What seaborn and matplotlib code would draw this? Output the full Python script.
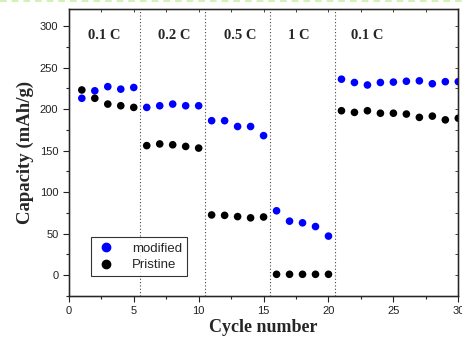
import matplotlib
matplotlib.use('Agg')
import matplotlib.pyplot as plt
import matplotlib.lines as mlines
from matplotlib.ticker import MultipleLocator
import seaborn as sns
import pandas as pd

# Données (capacité de décharge par cycle)
cycles = list(range(1, 31))
modified = [213, 222, 227, 224, 226, 202, 204, 206, 204, 204,
            186, 186, 179, 179, 168, 77.5, 65, 63, 58.5, 47,
            236, 232, 229, 232, 232.5, 233.5, 234, 230.5, 233, 233]
pristine = [223, 213, 206, 204, 202, 156, 158, 157, 155, 153,
            72.5, 72, 70.5, 69, 70, 1, 1, 1, 1, 1,
            198, 196, 198, 195, 195, 194, 190, 191.5, 187, 189]
rates = ['0.1 C', '0.2 C', '0.5 C', '1 C', '0.1 C']
rate_x = [2.75, 8.1, 13.2, 17.7, 22.95]
separations = [5.5, 10.5, 15.5, 20.5]

df = pd.concat([
    pd.DataFrame({'Cycle': cycles, 'Capacity': modified, 'Sample': 'modified'}),
    pd.DataFrame({'Cycle': cycles, 'Capacity': pristine, 'Sample': 'Pristine'}),
])

sns.set_style('ticks')
plt.rcParams['font.family'] = ['Liberation Sans', 'DejaVu Sans']
plt.rcParams['font.size'] = 8

fig = plt.figure(figsize=(4.62, 3.37), dpi=100)
ax = fig.add_axes([0.149, 0.122, 0.843, 0.850])

sns.scatterplot(data=df, x='Cycle', y='Capacity', hue='Sample',
                palette={'modified': '#0000ff', 'Pristine': 'black'},
                s=30, edgecolor='none', ax=ax, legend=False)

# séparations entre les régimes
for xs in separations:
    ax.axvline(xs, color='#444444', linestyle=(0, (1, 2)), linewidth=0.8)

for t, xt in zip(rates, rate_x):
    ax.text(xt, 289, t, ha='center', va='center', fontsize=10.5,
            fontweight='bold', family='Liberation Serif')

ax.set_xlim(0, 30)
ax.set_ylim(-25, 320)
ax.xaxis.set_major_locator(MultipleLocator(5))
ax.xaxis.set_minor_locator(MultipleLocator(2.5))
ax.yaxis.set_major_locator(MultipleLocator(50))
ax.yaxis.set_minor_locator(MultipleLocator(25))
ax.tick_params(which='both', direction='out', top=False, right=False,
               labelsize=8, colors='#222222', width=0.8)
ax.tick_params(which='major', length=4)
ax.tick_params(which='minor', length=2.5)
for s in ax.spines.values():
    s.set_linewidth(1.0)
    s.set_color('#222222')

# petits ticks intérieurs en haut et à droite
ax2 = ax.twinx()
ax2.set_ylim(ax.get_ylim())
ax2.yaxis.set_major_locator(MultipleLocator(50))
ax2.yaxis.set_minor_locator(MultipleLocator(25))
ax2.tick_params(which='both', direction='in', labelright=False, length=2, width=0.6)
ax3 = ax.twiny()
ax3.set_xlim(ax.get_xlim())
ax3.xaxis.set_major_locator(MultipleLocator(5))
ax3.xaxis.set_minor_locator(MultipleLocator(2.5))
ax3.tick_params(which='both', direction='in', labeltop=False, length=2, width=0.6)

ax.set_xlabel('Cycle number', fontsize=13, fontweight='bold',
              family='Liberation Serif', labelpad=2)
ax.set_ylabel('Capacity (mAh/g)', fontsize=13.5, fontweight='bold',
              family='Liberation Serif', labelpad=4)

handles = [mlines.Line2D([], [], marker='o', linestyle='none', color='#0000ff',
                         markersize=6, label='modified'),
           mlines.Line2D([], [], marker='o', linestyle='none', color='black',
                         markersize=6, label='Pristine')]
leg = ax.legend(handles=handles, loc='lower left', bbox_to_anchor=(0.04, 0.045),
                fontsize=9.5, frameon=True, fancybox=False, edgecolor='black',
                handletextpad=1.2, borderpad=0.4, labelspacing=0.3, handlelength=1.5)
leg.get_frame().set_linewidth(0.8)

# trait vert pointillé en haut de la capture
fig.add_artist(mlines.Line2D([0, 1], [0.998, 0.998], transform=fig.transFigure,
                             color='#c8f0a8', linestyle=(0, (4, 3)), linewidth=1.2))

fig.savefig('out.png', dpi=100)
